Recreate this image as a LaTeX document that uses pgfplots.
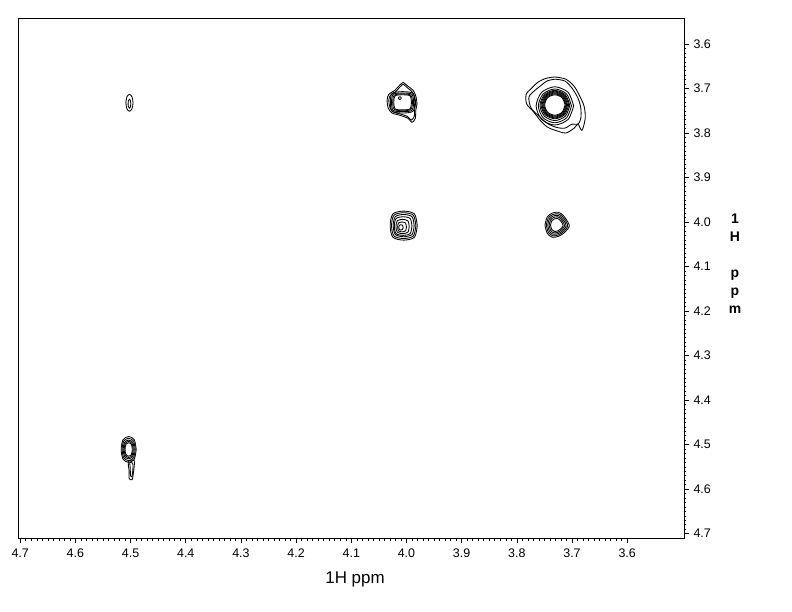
\documentclass[border=0pt]{standalone}
\usepackage{fontspec}
\setmainfont{Liberation Sans}
\usepackage{pgfplots}
\pgfplotsset{compat=1.18}
\begin{document}
\begin{tikzpicture}
\useasboundingbox (-18bp,-74bp) rectangle (774bp,538bp);
\begin{axis}[
 at={(0,0)}, anchor=south west,
 scale only axis, width=666bp, height=520bp,
 x dir=reverse, y dir=reverse,
 xmin=3.497, xmax=4.704, ymin=3.5415, ymax=4.71,
 xtick={3.6,3.7,3.8,3.9,4.0,4.1,4.2,4.3,4.4,4.5,4.6,4.7},
 ytick={3.6,3.7,3.8,3.9,4.0,4.1,4.2,4.3,4.4,4.5,4.6,4.7},
 minor x tick num=9, minor y tick num=9,
 xtick pos=bottom, ytick pos=right, yticklabel pos=right,
 tick align=outside,
 major tick length=5bp, minor tick length=2.5bp,
 tick style={black, line width=0.5bp},
 axis line style={line width=0.6bp},
 /pgf/number format/assume math mode=true,
 /pgf/number format/fixed, /pgf/number format/fixed zerofill, /pgf/number format/precision=1,
 tick label style={font=\fontsize{12.5}{14}\selectfont},
 xticklabel style={yshift=-2bp},
 yticklabel style={xshift=1bp},
 xlabel={1H ppm},
 every axis x label/.style={at={(axis description cs:0.506,0)}, anchor=center, yshift=-41bp, font=\fontsize{17}{20}\selectfont},
 ylabel={1\\H\\\strut\\p\\p\\m},
 every axis y label/.style={at={(axis description cs:1,0.528)}, anchor=center, xshift=51bp, align=center, font=\fontsize{14}{18}\selectfont\bfseries},
 ct/.style={black, line width=0.85bp, smooth, no markers},
]
% peak 1
\addplot[ct] coordinates {(4.5085,3.732)(4.5066,3.7454)(4.502,3.751)(4.4974,3.7454)(4.4955,3.732)(4.4974,3.7186)(4.502,3.713)(4.5066,3.7186)(4.5085,3.732)};
\addplot[ct] coordinates {(4.5045,3.734)(4.5038,3.741)(4.502,3.744)(4.5002,3.741)(4.4995,3.734)(4.5002,3.727)(4.502,3.724)(4.5038,3.727)(4.5045,3.734)};
% peak 2
\addplot[ct] coordinates {(4.006,3.686)(3.997,3.695)(3.988,3.704)(3.983,3.717)(3.981,3.735)(3.983,3.748)(3.984,3.767)(3.990,3.776)(3.997,3.767)(4.012,3.760)(4.026,3.755)(4.033,3.744)(4.035,3.726)(4.032,3.713)(4.021,3.704)(4.012,3.692)(4.006,3.686)};
\addplot[ct] coordinates {(4.006,3.690)(3.998,3.6985)(3.990,3.707)(3.985,3.718)(3.9835,3.7345)(3.985,3.746)(3.986,3.763)(3.9915,3.771)(3.998,3.763)(4.0115,3.757)(4.024,3.7525)(4.030,3.7425)(4.032,3.7265)(4.029,3.715)(4.0195,3.707)(4.0115,3.696)(4.006,3.690)};
\addplot[ct] coordinates {(3.985,3.731)(3.988,3.711)(4.007,3.707)(4.026,3.711)(4.029,3.731)(4.026,3.751)(4.007,3.755)(3.988,3.751)(3.985,3.731)};
\addplot[ct] coordinates {(3.987,3.731)(3.990,3.713)(4.007,3.710)(4.024,3.713)(4.027,3.731)(4.024,3.749)(4.007,3.752)(3.990,3.749)(3.987,3.731)};
\addplot[ct] coordinates {(3.989,3.731)(3.992,3.715)(4.007,3.712)(4.022,3.715)(4.025,3.731)(4.022,3.747)(4.007,3.750)(3.992,3.747)(3.989,3.731)};
\addplot[ct] coordinates {(3.991,3.731)(3.9934,3.7165)(4.007,3.714)(4.0206,3.7165)(4.023,3.731)(4.0206,3.7455)(4.007,3.748)(3.9934,3.7455)(3.991,3.731)};
\addplot[ct] coordinates {(4.0095,3.7215)(4.0102,3.7236)(4.012,3.7245)(4.0138,3.7236)(4.0145,3.7215)(4.0138,3.7194)(4.012,3.7185)(4.0102,3.7194)(4.0095,3.7215)};
% peak 3
\addplot[ct] coordinates {(3.7125,3.737)(3.7179,3.7533)(3.731,3.760)(3.7441,3.7533)(3.7495,3.737)(3.7441,3.7207)(3.731,3.714)(3.7179,3.7207)(3.7125,3.737)};
\addplot[ct] coordinates {(3.711,3.737)(3.7169,3.7547)(3.731,3.762)(3.7451,3.7547)(3.751,3.737)(3.7451,3.7193)(3.731,3.712)(3.7169,3.7193)(3.711,3.737)};
\addplot[ct] coordinates {(3.7095,3.737)(3.7158,3.7561)(3.731,3.764)(3.7462,3.7561)(3.7525,3.737)(3.7462,3.7179)(3.731,3.710)(3.7158,3.7179)(3.7095,3.737)};
\addplot[ct] coordinates {(3.708,3.737)(3.7147,3.7575)(3.731,3.766)(3.7473,3.7575)(3.754,3.737)(3.7473,3.7165)(3.731,3.708)(3.7147,3.7165)(3.708,3.737)};
\addplot[ct] coordinates {(3.706,3.737)(3.7133,3.7589)(3.731,3.768)(3.7487,3.7589)(3.756,3.737)(3.7487,3.7151)(3.731,3.706)(3.7133,3.7151)(3.706,3.737)};
\addplot[ct] coordinates {(3.704,3.738)(3.7119,3.762)(3.731,3.772)(3.7501,3.762)(3.758,3.738)(3.7501,3.714)(3.731,3.704)(3.7119,3.714)(3.704,3.738)};
\addplot[ct] coordinates {(3.701,3.739)(3.7098,3.7659)(3.731,3.777)(3.7522,3.7659)(3.761,3.739)(3.7522,3.7121)(3.731,3.701)(3.7098,3.7121)(3.701,3.739)};
\addplot[ct] coordinates {(3.697,3.739)(3.707,3.7694)(3.731,3.782)(3.755,3.7694)(3.765,3.739)(3.755,3.7086)(3.731,3.696)(3.707,3.7086)(3.697,3.739)};
\addplot[ct] coordinates {(3.731,3.679)(3.713,3.683)(3.700,3.699)(3.689,3.722)(3.684,3.744)(3.684,3.767)(3.689,3.780)(3.700,3.780)(3.713,3.789)(3.729,3.787)(3.745,3.778)(3.758,3.764)(3.774,3.744)(3.778,3.719)(3.767,3.704)(3.758,3.695)(3.745,3.683)(3.731,3.679)};
\addplot[ct] coordinates {(3.731,3.674)(3.711,3.679)(3.696,3.695)(3.686,3.717)(3.678,3.740)(3.676,3.767)(3.682,3.794)(3.689,3.780)(3.696,3.789)(3.711,3.800)(3.725,3.796)(3.744,3.787)(3.758,3.771)(3.769,3.753)(3.782,3.735)(3.783,3.713)(3.773,3.699)(3.762,3.686)(3.747,3.677)(3.731,3.674)};
% peak 4
\addplot[ct] coordinates {(3.9805,4.008)(3.9854,4.0341)(4.005,4.0406)(4.0246,4.0341)(4.0295,4.008)(4.0246,3.9819)(4.005,3.9754)(3.9854,3.9819)(3.9805,4.008)};
\addplot[ct] coordinates {(3.983,4.008)(3.9874,4.0312)(4.005,4.037)(4.0226,4.0312)(4.027,4.008)(4.0226,3.9848)(4.005,3.979)(3.9874,3.9848)(3.983,4.008)};
\addplot[ct] coordinates {(3.986,4.008)(3.9898,4.028)(4.005,4.033)(4.0202,4.028)(4.024,4.008)(4.0202,3.988)(4.005,3.983)(3.9898,3.988)(3.986,4.008)};
\addplot[ct] coordinates {(3.990,4.009)(3.9932,4.0258)(4.006,4.030)(4.0188,4.0258)(4.022,4.009)(4.0188,3.9922)(4.006,3.988)(3.9932,3.9922)(3.990,4.009)};
\addplot[ct] coordinates {(3.995,4.010)(3.9974,4.0228)(4.007,4.026)(4.0166,4.0228)(4.019,4.010)(4.0166,3.9972)(4.007,3.994)(3.9974,3.9972)(3.995,4.010)};
\addplot[ct] coordinates {(4.000,4.011)(4.0016,4.0198)(4.008,4.022)(4.0144,4.0198)(4.016,4.011)(4.0144,4.0022)(4.008,4.000)(4.0016,4.0022)(4.000,4.011)};
\addplot[ct] coordinates {(4.006,4.012)(4.0072,4.0168)(4.010,4.018)(4.0128,4.0168)(4.014,4.012)(4.0128,4.0072)(4.010,4.006)(4.0072,4.0072)(4.006,4.012)};
% peak 5
\addplot[ct] coordinates {(3.749,4.007)(3.745,3.989)(3.736,3.980)(3.725,3.978)(3.716,3.985)(3.707,4.001)(3.705,4.010)(3.713,4.023)(3.724,4.032)(3.736,4.034)(3.745,4.025)(3.749,4.007)};
\addplot[ct] coordinates {(3.7465,4.007)(3.743,3.9912)(3.735,3.9832)(3.7254,3.9815)(3.7174,3.9876)(3.7095,4.0017)(3.7078,4.0096)(3.7148,4.0211)(3.7245,4.029)(3.735,4.0308)(3.743,4.0228)(3.7465,4.007)};
\addplot[ct] coordinates {(3.744,4.007)(3.7409,3.9933)(3.7341,3.9865)(3.7257,3.985)(3.7189,3.9903)(3.712,4.0024)(3.7105,4.0093)(3.7166,4.0192)(3.725,4.026)(3.7341,4.0275)(3.7409,4.0207)(3.744,4.007)};
\addplot[ct] coordinates {(3.7414,4.007)(3.7389,3.9955)(3.7331,3.9897)(3.7261,3.9884)(3.7203,3.9929)(3.7146,4.0032)(3.7133,4.0089)(3.7184,4.0172)(3.7254,4.023)(3.7331,4.0243)(3.7389,4.0185)(3.7414,4.007)};
\addplot[ct] coordinates {(3.7389,4.007)(3.7368,3.9976)(3.7322,3.993)(3.7264,3.9919)(3.7218,3.9956)(3.7171,4.0039)(3.716,4.0086)(3.7202,4.0153)(3.7259,4.02)(3.7322,4.021)(3.7368,4.0164)(3.7389,4.007)};
% peak 6
\addplot[ct] coordinates {(4.4898,4.511)(4.4932,4.5328)(4.5034,4.540)(4.5136,4.5328)(4.517,4.511)(4.5136,4.4892)(4.5034,4.482)(4.4932,4.4892)(4.4898,4.511)};
\addplot[ct] coordinates {(4.4916,4.511)(4.4945,4.5298)(4.5034,4.536)(4.5123,4.5298)(4.5152,4.511)(4.5123,4.4922)(4.5034,4.486)(4.4945,4.4922)(4.4916,4.511)};
\addplot[ct] coordinates {(4.4934,4.511)(4.4959,4.5268)(4.5034,4.532)(4.5109,4.5268)(4.5134,4.511)(4.5109,4.4952)(4.5034,4.490)(4.4959,4.4952)(4.4934,4.511)};
\addplot[ct] coordinates {(4.4952,4.511)(4.4972,4.5245)(4.5034,4.529)(4.5096,4.5245)(4.5116,4.511)(4.5096,4.4975)(4.5034,4.493)(4.4972,4.4975)(4.4952,4.511)};
\addplot[ct] coordinates {(4.4968,4.511)(4.4984,4.5223)(4.5034,4.526)(4.5084,4.5223)(4.51,4.511)(4.5084,4.4997)(4.5034,4.496)(4.4984,4.4997)(4.4968,4.511)};
\addplot[ct] coordinates {(4.504,4.536)(4.4935,4.536)(4.4935,4.5495)(4.4953,4.5675)(4.4971,4.5788)(4.5025,4.5765)(4.5025,4.5585)(4.504,4.5473)(4.504,4.536)};
\addplot[ct] coordinates {(4.5015,4.540)(4.496,4.542)(4.4958,4.556)(4.4975,4.572)(4.500,4.570)(4.5005,4.556)(4.5015,4.540)};
\end{axis}
\end{tikzpicture}
\end{document}
